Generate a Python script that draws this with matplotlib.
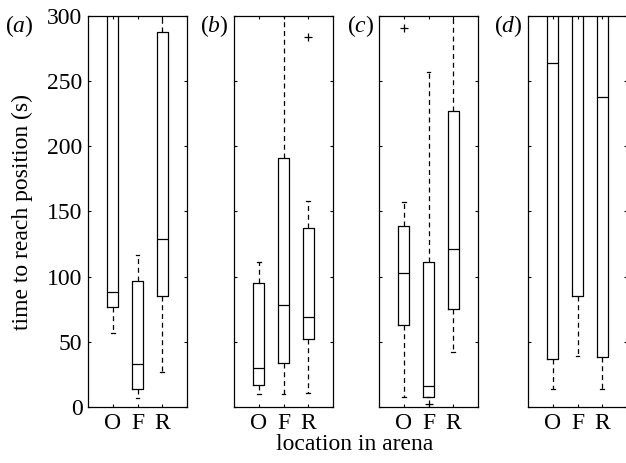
import matplotlib
matplotlib.use('Agg')
import matplotlib.pyplot as plt

plt.rcParams['font.family'] = ['Liberation Serif', 'DejaVu Serif']
plt.rcParams['mathtext.fontset'] = 'custom'
plt.rcParams['mathtext.rm'] = 'Liberation Serif'
plt.rcParams['mathtext.it'] = 'Liberation Serif:italic'

# categories (x) and panel names
locations = ['O', 'F', 'R']
panels = ['a', 'b', 'c', 'd']

# box statistics (s); values above 300 are clipped by the axes
med_a = [88, 33, 129]
q1_a = [77, 14, 85]
q3_a = [330, 97, 288]
lo_a = [57, 7, 27]
hi_a = [340, 117, 330]
out_a = [[], [], []]

med_b = [30, 78, 69]
q1_b = [17, 34, 52]
q3_b = [95, 191, 137]
lo_b = [10, 10, 11]
hi_b = [111, 330, 158]
out_b = [[], [], [284]]

med_c = [103, 16, 121]
q1_c = [63, 8, 75]
q3_c = [139, 111, 227]
lo_c = [8, 8, 42]
hi_c = [157, 257, 330]
out_c = [[291], [2], []]

med_d = [264, 320, 238]
q1_d = [37, 85, 38]
q3_d = [340, 340, 340]
lo_d = [14, 39, 14]
hi_d = [350, 350, 350]
out_d = [[], [], []]

yticks = [0, 50, 100, 150, 200, 250, 300]

all_stats = [
    (med_a, q1_a, q3_a, lo_a, hi_a, out_a),
    (med_b, q1_b, q3_b, lo_b, hi_b, out_b),
    (med_c, q1_c, q3_c, lo_c, hi_c, out_c),
    (med_d, q1_d, q3_d, lo_d, hi_d, out_d),
]

W, H = 626, 463
fig = plt.figure(figsize=(W / 100, H / 100), dpi=100)

lefts = [88, 234, 379, 528]
ax_w = 99
top, bottom = 16, 407
fs = 17

for i, (name, st) in enumerate(zip(panels, all_stats)):
    ax = fig.add_axes([lefts[i] / W, 1 - bottom / H, ax_w / W, (bottom - top) / H])
    med, q1, q3, lo, hi, out = st
    stats = []
    for j in range(len(locations)):
        stats.append(dict(med=med[j], q1=q1[j], q3=q3[j], whislo=lo[j],
                          whishi=hi[j], fliers=out[j], label=locations[j]))
    ax.bxp(stats, positions=[1, 2, 3], widths=0.45, capwidths=0.15,
           boxprops=dict(color='black', linewidth=0.9),
           medianprops=dict(color='black', linewidth=0.9),
           whiskerprops=dict(color='black', linewidth=0.9, linestyle=(0, (4, 3))),
           capprops=dict(color='black', linewidth=0.9),
           flierprops=dict(marker='+', markeredgecolor='black', markersize=6,
                           markeredgewidth=0.9))
    ax.set_xlim(0, 4)
    ax.set_ylim(0, 300)
    ax.set_yticks(yticks)
    ax.tick_params(direction='in', top=True, right=True, length=2.5, width=0.8,
                   labelsize=fs, pad=4)
    ax.tick_params(axis='x', pad=4)
    if i > 0:
        ax.set_yticklabels([])
    else:
        ax.set_ylabel('time to reach position (s)', fontsize=fs, labelpad=10)
    for sp in ax.spines.values():
        sp.set_linewidth(0.9)
    lab = '($\\mathit{' + name + '}$)'
    if i == 0:
        fig.text(5 / W, 1 - 13 / H, lab, fontsize=fs, ha='left', va='top')
    else:
        fig.text((lefts[i] - 5) / W, 1 - 13 / H, lab, fontsize=fs, ha='right', va='top')

fig.text(355 / W, 1 - 444 / H, 'location in arena', fontsize=fs, ha='center', va='center')

fig.savefig('out.png', dpi=100)
